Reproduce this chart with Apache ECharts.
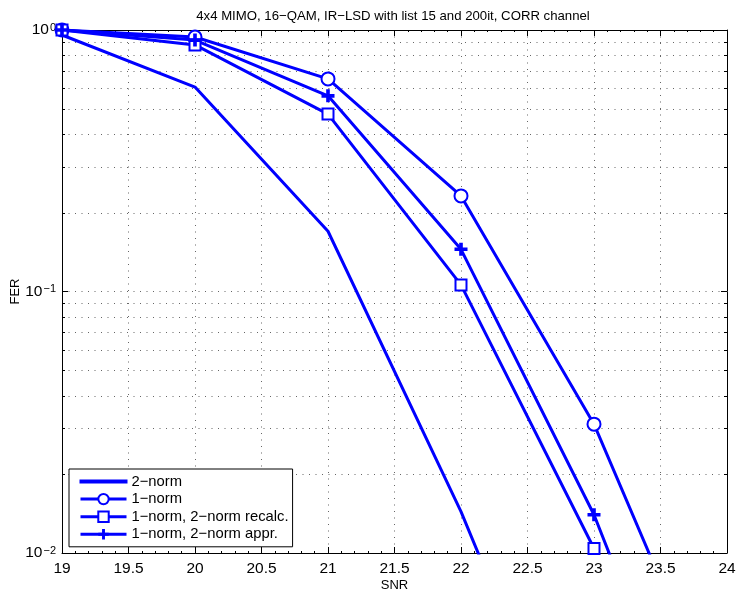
<!DOCTYPE html>
<html>
<head>
<meta charset="utf-8">
<script src="https://cdn.jsdelivr.net/npm/echarts@6/dist/echarts.min.js"></script>
<style>
  html, body { margin: 0; padding: 0; background: #fff; }
  #chart { width: 738px; height: 595px; }
</style>
</head>
<body>
<div id="chart"></div>
<script>
// SNR points (dB)
const snr = [19, 20, 21, 22, 23, 24];

// Frame error rate per detector variant
const fer2norm       = [0.957, 0.605, 0.170, 0.0144, 0.00085];
const fer1norm       = [1.0, 0.94, 0.65, 0.232, 0.0311, 0.002];
const fer1normRecalc = [1.0, 0.877, 0.477, 0.106, 0.0104];
const fer1normAppr   = [1.0, 0.915, 0.56, 0.145, 0.014, 0.00072];

const seriesNames = [
  '2\u2212norm',
  '1\u2212norm',
  '1\u2212norm, 2\u2212norm recalc.',
  '1\u2212norm, 2\u2212norm appr.'
];

const titleText = '4x4 MIMO, 16\u2212QAM, IR\u2212LSD with list 15 and 200it, CORR channel';

// log-axis minor positions: 2..9 within each decade
const minorLog = [];
[0.01, 0.1].forEach(d => { for (let k = 2; k <= 9; k++) minorLog.push(+(d * k).toPrecision(3)); });

const BLUE = '#0000ff';
const FONT = 'Liberation Sans';
const plusPath = 'path://M3.6,0h2.8v3.6h3.6v2.8h-3.6v3.6h-2.8v-3.6h-3.6v-2.8h3.6z';
// plain line icon for the marker-less series (move-tos fix the icon box)
const plainLineIcon = 'path://M0,0M46,13M0,5.5h46v2h-46z';

const pairs = arr => arr.map((v, i) => [snr[i], v]);

function lineSeries(name, values, symbol, size, filled) {
  return {
    name: name,
    type: 'line',
    data: pairs(values),
    symbol: symbol,
    symbolSize: size,
    showSymbol: symbol !== 'none',
    lineStyle: { color: BLUE, width: 3 },
    itemStyle: filled
      ? { color: BLUE, borderWidth: 0 }
      : { color: BLUE, borderColor: BLUE, borderWidth: 2 },
    emphasis: { disabled: true },
    z: 3,
    animation: false
  };
}

const chart = echarts.init(document.getElementById('chart'), null, { renderer: 'canvas' });

const tickStyle = { color: '#000', width: 1 };
const gridDots = { color: '#666', width: 1, type: [1, 5.5] };

chart.setOption({
  animation: false,
  backgroundColor: '#fff',
  textStyle: { fontFamily: FONT },
  title: {
    text: titleText,
    left: 388, textAlign: 'center',
    top: 5,
    textStyle: { fontFamily: FONT, fontSize: 13.2, fontWeight: 'normal', color: '#000' }
  },
  grid: { left: 62, right: 11, top: 30, bottom: 42, containLabel: false, outerBoundsMode: 'none' },
  legend: {
    left: 69, top: 469,
    orient: 'vertical',
    data: [
      { name: seriesNames[0], icon: plainLineIcon },
      seriesNames[1], seriesNames[2], seriesNames[3]
    ],
    itemWidth: 46, itemHeight: 13, itemGap: 2.6,
    padding: [5, 4, 5, 10],
    lineStyle: { width: 3 },
    borderColor: '#000', borderWidth: 1, backgroundColor: '#fff',
    textStyle: { fontFamily: FONT, fontSize: 14.8, color: '#000' },
    selectedMode: false
  },
  xAxis: [
    {
      type: 'value', min: 19, max: 24, interval: 0.5,
      name: 'SNR', nameLocation: 'middle', nameGap: 26, nameMoveOverlap: false,
      nameTextStyle: { fontFamily: FONT, fontSize: 13, color: '#000' },
      axisLine: { lineStyle: { color: '#000', width: 1 } },
      axisTick: { inside: true, length: 6, lineStyle: tickStyle },
      minorTick: { show: true, splitNumber: 5, length: 2, lineStyle: tickStyle },
      axisLabel: { fontFamily: FONT, fontSize: 15.5, color: '#000', margin: 8,
                   formatter: v => String(+v.toFixed(1)) },
      splitLine: { show: true, lineStyle: gridDots }
    },
    {
      type: 'value', min: 19, max: 24, interval: 0.5, position: 'top',
      axisLine: { lineStyle: { color: '#000', width: 1 } },
      axisTick: { inside: true, length: 6, lineStyle: tickStyle },
      minorTick: { show: true, splitNumber: 5, length: 2, lineStyle: tickStyle },
      axisLabel: { show: false },
      splitLine: { show: false }
    }
  ],
  yAxis: [
    {
      type: 'log', logBase: 10, min: 0.01, max: 1,
      name: 'FER', nameLocation: 'middle', nameGap: 40, nameRotate: 90, nameMoveOverlap: false,
      nameTextStyle: { fontFamily: FONT, fontSize: 13, color: '#000' },
      axisLine: { show: true, lineStyle: { color: '#000', width: 1 } },
      axisTick: { inside: true, length: 6, lineStyle: tickStyle },
      axisLabel: {
        color: '#000', margin: 6,
        formatter: v => '{b|10}{sup|' + Math.round(Math.log10(v)).toString().replace('-', '\u2212') + '}',
        rich: {
          b:   { fontFamily: FONT, fontSize: 15.5, color: '#000', verticalAlign: 'bottom', lineHeight: 16 },
          sup: { fontFamily: FONT, fontSize: 11, color: '#000', verticalAlign: 'top', lineHeight: 11, padding: [0, 0, 12, 1] }
        }
      },
      splitLine: { show: true, lineStyle: gridDots }
    },
    {
      type: 'log', logBase: 10, min: 0.01, max: 1, position: 'right',
      axisLine: { show: true, lineStyle: { color: '#000', width: 1 } },
      axisTick: { inside: true, length: 6, lineStyle: tickStyle },
      axisLabel: { show: false },
      splitLine: { show: false }
    }
  ],
  series: [
    {
      // minor decade grid + minor ticks on both vertical edges
      type: 'custom',
      silent: true,
      legendHoverLink: false,
      xAxisIndex: 0, yAxisIndex: 0,
      data: minorLog.map(v => [19, v]),
      encode: { x: 0, y: 1 },
      z: 1,
      renderItem: function (params, api) {
        const p = api.coord([19, api.value(1)]);
        const cs = params.coordSys;
        const y = Math.round(p[1]) + 0.5;
        return {
          type: 'group',
          children: [
            { type: 'line', shape: { x1: cs.x, y1: y, x2: cs.x + cs.width, y2: y },
              style: { stroke: '#666', lineWidth: 1, lineDash: [1, 5.5] } },
            { type: 'line', shape: { x1: cs.x, y1: y, x2: cs.x + 3, y2: y },
              style: { stroke: '#000', lineWidth: 1 } },
            { type: 'line', shape: { x1: cs.x + cs.width - 3, y1: y, x2: cs.x + cs.width, y2: y },
              style: { stroke: '#000', lineWidth: 1 } }
          ]
        };
      }
    },
    lineSeries(seriesNames[0], fer2norm, 'none', 0, false),
    lineSeries(seriesNames[1], fer1norm, 'emptyCircle', 13, false),
    lineSeries(seriesNames[2], fer1normRecalc, 'emptyRect', 11, false),
    lineSeries(seriesNames[3], fer1normAppr, plusPath, 13, true)
  ]
});
</script>
</body>
</html>
